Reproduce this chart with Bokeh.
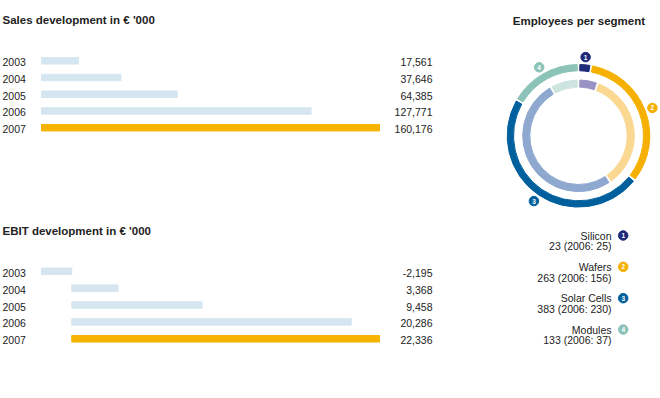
import math
from bokeh.plotting import figure
from bokeh.models import Range1d
from bokeh.core.properties import value
from bokeh.embed import file_html
from bokeh.resources import INLINE

# ---------------- data ----------------
years = [2003, 2004, 2005, 2006, 2007]
sales = [17561, 37646, 64385, 127771, 160176]
ebit = [-2195, 3368, 9458, 20286, 22336]
highlight_year = 2007

segments = ["Silicon", "Wafers", "Solar Cells", "Modules"]
seg_numbers = ["1", "2", "3", "4"]
employees_2007 = [23, 263, 383, 133]
employees_2006 = [25, 156, 230, 37]

# ---------------- styles ----------------
W, H = 660, 398
FONT = value("Liberation Sans")
TXT = "#222222"
BAR_LIGHT = "#d6e6f0"
BAR_HI = "#f6b300"
OUTER_COLORS = ["#1f2a7a", "#f5b000", "#00609e", "#8cc3b8"]
INNER_COLORS = ["#9893c4", "#fbd892", "#8ea8d0", "#cde4df"]


def fx(px):
    return px


def fy(py):
    return H - py


p = figure(width=W, height=H, x_range=Range1d(0, W), y_range=Range1d(0, H),
           output_backend="svg", toolbar_location=None, min_border=0)
p.axis.visible = False
p.grid.visible = False
p.outline_line_color = None
p.background_fill_color = "white"
p.border_fill_color = "white"


def value_range(vals, x0, x1):
    lo = min(0, min(vals))
    hi = max(vals)
    k = (x1 - x0) / (hi - lo)
    start = lo - x0 / k
    return Range1d(start, start + W / k)


def year_range(p0, p1):
    per = (p1 - p0) / (years[-1] - years[0])
    start = years[0] - p0 / per
    return Range1d(start, start + H / per), abs(per)


sx = value_range(sales, fx(41), fx(379))
ex = value_range(ebit, fx(41), fx(379))
sy, s_per = year_range(fy(60.3), fy(127.2))
ey, e_per = year_range(fy(270.8), fy(338.3))
p.extra_x_ranges = {"sales": sx, "ebit": ex}
p.extra_y_ranges = {"sales_y": sy, "ebit_y": ey}

bar_colors = [BAR_HI if y == highlight_year else BAR_LIGHT for y in years]


def bar_block(vals, xr, yr, per, title, title_y):
    p.hbar(y=years, left=0, right=vals, height=6.5 / per, color=bar_colors,
           x_range_name=xr, y_range_name=yr)
    p.text(x=[fx(2)] * len(years), y=years, text=[str(y) for y in years],
           y_range_name=yr, text_font=FONT, text_font_size="10.5px",
           text_color=TXT, text_align="left", text_baseline="middle", y_offset=1.5)
    p.text(x=[fx(432)] * len(years), y=years, text=[f"{v:,}" for v in vals],
           y_range_name=yr, text_font=FONT, text_font_size="10.5px",
           text_color=TXT, text_align="right", text_baseline="middle", y_offset=1.5)
    p.text(x=[fx(2)], y=[fy(title_y)], text=[title], text_font=FONT,
           text_font_size="11.5px", text_font_style="bold", text_color=TXT,
           text_align="left", text_baseline="middle")


bar_block(sales, "sales", "sales_y", s_per, "Sales development in € '000", 19.5)
bar_block(ebit, "ebit", "ebit_y", e_per, "EBIT development in € '000", 230)

# ---------------- donut ----------------
cx, cy = fx(578), fy(135.3)


def ring(vals, r_in, r_out, colors, gap_px=2.6):
    total = sum(vals)
    g = (gap_px / 2) / ((r_in + r_out) / 2)
    starts, ends, mids = [], [], []
    acc = 0
    for v in vals:
        a0 = acc / total * 2 * math.pi
        acc += v
        a1 = acc / total * 2 * math.pi
        starts.append(math.pi / 2 - a0 - g)
        ends.append(math.pi / 2 - a1 + g)
        mids.append(math.pi / 2 - (a0 + a1) / 2)
    p.annular_wedge(x=[cx] * len(vals), y=[cy] * len(vals), inner_radius=r_in,
                    outer_radius=r_out, start_angle=starts, end_angle=ends,
                    direction="clock", color=colors)
    return mids


mids = ring(employees_2007, 65.0, 71.3, OUTER_COLORS)
ring(employees_2006, 48.7, 55.8, INNER_COLORS)

rm = 79
mx = [cx + rm * math.cos(a) for a in mids]
my = [cy + rm * math.sin(a) for a in mids]
p.scatter(x=mx, y=my, size=9.5, color=OUTER_COLORS)
p.text(x=mx, y=my, text=seg_numbers, text_font=FONT, text_font_size="6.5px",
       text_font_style="bold", text_color="white", text_align="center",
       text_baseline="middle")

p.text(x=[fx(578.4)], y=[fy(20)], text=["Employees per segment"], text_font=FONT,
       text_font_size="11.5px", text_font_style="bold", text_color=TXT,
       text_align="center", text_baseline="middle")

# ---------------- legend ----------------
row_y = [fy(235 + i * 31.35) for i in range(len(segments))]
row_y2 = [y - 10.8 for y in row_y]
p.text(x=[fx(611)] * len(segments), y=row_y, text=segments, text_font=FONT,
       text_font_size="10.5px", text_color=TXT, text_align="right",
       text_baseline="middle")
p.text(x=[fx(611)] * len(segments), y=row_y2,
       text=[f"{a} (2006: {b})" for a, b in zip(employees_2007, employees_2006)],
       text_font=FONT, text_font_size="10.5px", text_color=TXT,
       text_align="right", text_baseline="middle")
lx = [fx(622.7)] * len(segments)
p.scatter(x=lx, y=row_y, size=9.5, color=OUTER_COLORS)
p.text(x=lx, y=row_y, text=seg_numbers, text_font=FONT, text_font_size="6.5px",
       text_font_style="bold", text_color="white", text_align="center",
       text_baseline="middle")

open("out.html", "w").write(file_html(p, INLINE))
